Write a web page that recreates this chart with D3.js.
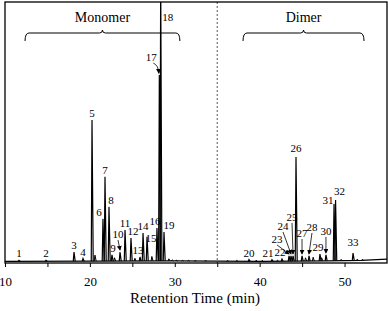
<!DOCTYPE html>
<html>
<head>
<meta charset="utf-8">
<script src="https://cdn.jsdelivr.net/npm/d3@7"></script>
<style>
  body { margin: 0; background: #fff; }
  svg { display: block; }
</style>
</head>
<body>
<svg id="chart"></svg>
<script>
// numbered peaks: retention time (min) and apex intensity (%)
const PEAK_IDS = d3.range(1, 34);
const PEAK_TIMES = [11.65, 14.83, 18.13, 19.19, 20.25, 21.54, 21.78, 22.25, 22.6, 23.55,
    24.14, 24.84, 25.9, 26.26, 26.73, 27.9, 28.18, 28.34, 28.73,
    38.74, 41.45, 42.63, 43.46, 43.69, 43.93, 44.28, 44.99, 45.81, 47.1, 47.81, 48.76, 48.94, 51.0];
const PEAK_HEIGHTS = [1.0, 1.0, 4.2, 1.7, 54.8, 16.9, 33.0, 21.5, 3.1, 4.2,
    12.6, 9.6, 2.3, 11.5, 10.0, 13.4, 72.0, 110, 11.9,
    1.3, 1.3, 1.5, 2.7, 2.7, 2.7, 40.6, 2.7, 2.7, 3.4, 3.1, 22.6, 24.1, 3.8];

// unlabelled small bumps
const MINOR_TIMES = [20.6, 22.9, 25.3, 27.3, 29.3, 29.7, 30.2, 30.9, 31.6, 32.4, 33.6,
    36.2, 37.3, 39.6, 40.3, 42.1, 45.4, 46.3, 47.3, 49.6, 51.5, 52.1];
const MINOR_HEIGHTS = [3.0, 2.0, 1.8, 2.5, 1.6, 1.2, 1.1, 1.0, 1.0, 0.9, 0.9,
    0.9, 1.0, 1.1, 1.0, 1.1, 2.0, 2.2, 2.0, 1.4, 1.5, 1.4];

// baseline drift
const BASE_TIMES = [10, 20, 30, 40, 48, 52, 55];
const BASE_LEVELS = [0.6, 0.7, 0.8, 0.6, 0.8, 1.0, 1.5];

const X_TICKS = [10, 15, 20, 25, 30, 35, 40, 45, 50];
const X_LABELS = [10, 20, 30, 40, 50];

const REGION_NAMES = ['Monomer', 'Dimer'];
const REGION_START = [12.36, 38.04];
const REGION_END = [30.6, 52.29];
const DIVIDER_TIME = 35;

// label placement tweaks (pixels)
const LABEL_SHIFT = {6: [-4, 0], 8: [2, 0], 9: [1, 0], 12: [2, 0], 13: [-2, 0], 15: [4, 8],
    16: [-2, 0], 18: [7, 0], 19: [5, 0], 21: [-4, 0], 22: [-2, 0], 26: [0, -2], 29: [-2, 0],
    31: [-6, 3], 32: [4, -2], 33: [0, -4]};
const ARROW_LABELS = {10: [-2, -13], 17: [-8, -13], 23: [-12, -12], 24: [-8, -25], 25: [-1, -34],
    27: [0, -18], 28: [3, -24], 30: [0, -19]};

const FONT = '"Liberation Serif", "Times New Roman", Times, serif';
const WIDTH = 388, HEIGHT = 311;
const PLOT = {left: 5, right: 387, top: 2, bottom: 263};

const svg = d3.select('#chart').attr('width', WIDTH).attr('height', HEIGHT)
    .style('font-family', FONT);

const x = d3.scaleLinear().domain([10, 55]).range([PLOT.left, PLOT.right]);
const y = d3.scaleLinear().domain([0, 100]).range([PLOT.bottom, PLOT.top]);

const defs = svg.append('defs');
defs.append('clipPath').attr('id', 'clip')
    .append('rect')
    .attr('x', PLOT.left).attr('y', PLOT.top)
    .attr('width', PLOT.right - PLOT.left).attr('height', PLOT.bottom - PLOT.top);

defs.append('marker')
    .attr('id', 'arrow')
    .attr('viewBox', '0 0 6 6')
    .attr('refX', 5).attr('refY', 3)
    .attr('markerWidth', 5).attr('markerHeight', 5)
    .attr('markerUnits', 'userSpaceOnUse')
    .attr('orient', 'auto')
    .append('path').attr('d', 'M0,0L6,3L0,6Z').attr('fill', '#000');

/* ************** AXIS ************** */
const axis = svg.append('g')
    .attr('transform', `translate(0, ${PLOT.bottom})`)
    .call(d3.axisBottom(x)
        .tickValues(X_TICKS)
        .tickSize(4)
        .tickPadding(10)
        .tickFormat(d => X_LABELS.includes(d) ? d : ''));
axis.attr('font-family', null).attr('font-size', null);
axis.select('.domain').remove();
axis.selectAll('line').attr('stroke', '#000');
axis.selectAll('text')
    .style('font-family', FONT)
    .style('font-size', '13px')
    .attr('fill', '#000');

svg.append('text')
    .attr('x', 195).attr('y', 303)
    .attr('text-anchor', 'middle')
    .style('font-family', FONT)
    .style('font-size', '15px')
    .text('Retention Time (min)');

/* ************** DIVIDER + BRACKETS ************** */
svg.append('line')
    .attr('x1', x(DIVIDER_TIME)).attr('x2', x(DIVIDER_TIME))
    .attr('y1', PLOT.top).attr('y2', PLOT.bottom)
    .attr('stroke', '#555').attr('stroke-dasharray', '2,2');

const brackets = svg.append('g');
REGION_NAMES.forEach((name, i) => {
    const x0 = x(REGION_START[i]), x1 = x(REGION_END[i]), xc = (x0 + x1) / 2, yb = 33;
    brackets.append('path')
        .attr('d', `M${x0},${yb + 8}Q${x0},${yb} ${x0 + 4},${yb}L${xc - 3},${yb}Q${xc},${yb} ${xc},${yb - 3}` +
            `Q${xc},${yb} ${xc + 3},${yb}L${x1 - 4},${yb}Q${x1},${yb} ${x1},${yb + 8}`)
        .attr('fill', 'none').attr('stroke', '#000').attr('stroke-width', 1);
    brackets.append('text')
        .attr('x', xc).attr('y', 22)
        .attr('text-anchor', 'middle')
        .style('font-family', FONT)
        .style('font-size', '14px')
        .text(name);
});

/* ************** TRACE ************** */
const trace = svg.append('g').attr('clip-path', 'url(#clip)');
const line = d3.line().x(d => x(d[0])).y(d => y(d[1]));

trace.append('path')
    .attr('d', line(BASE_TIMES.map((t, i) => [t, BASE_LEVELS[i]])))
    .attr('fill', 'none').attr('stroke', '#000').attr('stroke-width', 1.2);

const baseAt = t => d3.scaleLinear().domain(BASE_TIMES).range(BASE_LEVELS)(t);
const spike = (t, h) => line([[t - 0.09, baseAt(t)], [t, h], [t + 0.14, baseAt(t)]]);

trace.selectAll('.minor')
    .data(MINOR_TIMES)
    .enter().append('path')
    .classed('minor', true)
    .attr('d', (t, i) => spike(t, MINOR_HEIGHTS[i]))
    .attr('fill', 'none').attr('stroke', '#000').attr('stroke-width', 1);

trace.selectAll('.peak')
    .data(PEAK_IDS)
    .enter().append('path')
    .classed('peak', true)
    .attr('d', (id, i) => spike(PEAK_TIMES[i], PEAK_HEIGHTS[i]))
    .attr('fill', 'none').attr('stroke', '#000').attr('stroke-width', 1.2);

/* ************** PEAK LABELS ************** */
const labels = svg.append('g');
PEAK_IDS.forEach((id, i) => {
    const px = x(PEAK_TIMES[i]);
    const py = y(PEAK_HEIGHTS[i]);
    let lx, ly;
    if (ARROW_LABELS[id]) {
        const [dx, dy] = ARROW_LABELS[id];
        const tipY = py - 1;
        lx = px + dx;
        ly = tipY + dy;
        const d = id === 17
            ? `M${lx + 2},${ly + 2}Q${px - 1},${ly + 4} ${px - 0.5},${tipY - 1}`
            : `M${lx},${ly + 2}L${px},${tipY - 1}`;
        labels.append('path').attr('d', d)
            .attr('fill', 'none').attr('stroke', '#000').attr('stroke-width', 0.8)
            .attr('marker-end', 'url(#arrow)');
    } else {
        const [dx, dy] = LABEL_SHIFT[id] || [0, 0];
        lx = px + dx;
        ly = Math.max(py - 3, 21) + dy;
    }
    labels.append('text')
        .attr('x', lx).attr('y', ly)
        .attr('text-anchor', 'middle')
        .style('font-family', FONT)
        .style('font-size', '11px')
        .text(id);
});

/* ************** FRAME ************** */
svg.append('rect')
    .attr('x', PLOT.left).attr('y', PLOT.top)
    .attr('width', PLOT.right - PLOT.left).attr('height', PLOT.bottom - PLOT.top)
    .attr('fill', 'none').attr('stroke', '#000').attr('stroke-width', 1.3);
</script>
</body>
</html>
